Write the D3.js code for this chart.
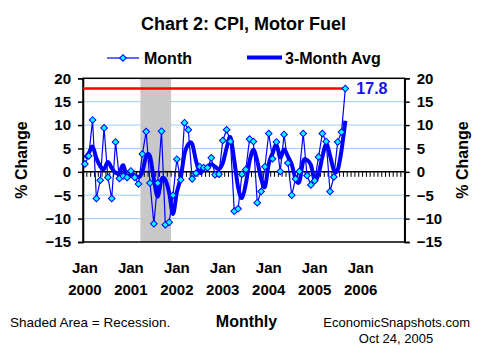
<!DOCTYPE html>
<html><head><meta charset="utf-8">
<script src="https://cdn.jsdelivr.net/npm/d3@7"></script>
<style>body{margin:0;background:#fff;} svg{display:block;} text{font-family:"Liberation Sans",Arial,sans-serif;}</style>
</head><body><svg id="c" width="485" height="356"></svg>
<script>
// Monthly % change, Jan 2000 .. Sep 2005
const monthly = [1.7,3.4,11.1,-5.7,-1.8,9.4,-1.2,-5.7,6.4,-1.4,-0.9,-1.2,
  0.2,-1.2,-2.6,3.8,8.6,-2.4,-11.1,-2.4,8.7,-11.3,-10.8,-5.0,
  2.7,-1.7,10.5,9.0,-1.5,-0.3,1.1,0.9,0.9,3.0,-0.6,-0.5,
  6.7,9.0,6.5,-8.4,-7.9,-0.5,0.5,7.0,6.5,-6.6,-4.2,1.1,
  8.2,2.8,6.4,0.1,8.0,1.9,-5.0,-1.5,0.1,8.2,-0.8,-2.8,
  -1.9,3.2,8.2,6.5,-4.2,-1.1,6.4,8.5,17.8];
// 3-month average, Jan 2000 .. Sep 2005
const avg3 = [3.0,4.0,5.4,2.9,1.2,0.6,2.1,0.8,-0.2,-0.2,1.4,-1.2,
  -0.6,-0.7,-1.2,0.0,3.3,3.3,-1.6,-5.3,-1.6,-1.7,-4.5,-9.0,
  -4.4,-1.3,3.8,5.9,6.0,2.4,-0.2,0.6,1.0,1.6,1.1,0.6,
  1.9,5.1,7.4,2.4,-3.3,-5.6,-2.6,2.3,4.7,2.3,-1.4,-3.2,
  1.7,4.0,5.8,3.1,4.8,3.3,1.6,-1.5,-2.1,2.3,2.5,1.5,
  -1.8,-0.5,3.2,6.0,3.5,0.4,0.4,4.6,10.9];
const years = ["2000","2001","2002","2003","2004","2005","2006"];
const yTicks = [-15,-10,-5,0,5,10,15,20];
const gridVals = [-10,-5,5,10,15];
const recession = ["2001-04","2001-11"];
const latestLabel = "17.8";

const fmt = d3.timeFormat("%Y-%m");
const months = d3.timeMonths(new Date(2000,0,1), new Date(2007,0,1)).map(fmt);

const svg = d3.select("#c");
const L = 83, R = 404.7, T = 78.3, B = 242;
const x = d3.scaleBand().domain(months).range([L, R]).padding(0);
const bw = x.bandwidth();
const cx = i => x(months[i]) + bw/2;
const y = d3.scaleLinear().domain([-15,20]).range([B, T]);

// gridlines
svg.append("g").selectAll("line").data(gridVals).join("line")
  .attr("x1", L).attr("x2", R).attr("y1", d=>y(d)).attr("y2", d=>y(d))
  .attr("stroke", "#99CCFF").attr("stroke-width", 1);

// recession shade
svg.append("rect").attr("x", x(recession[0])).attr("y", T)
  .attr("width", x(recession[1]) + bw - x(recession[0])).attr("height", B - T)
  .attr("fill", "#C8C8C8");

// frame
svg.append("rect").attr("x", L).attr("y", T).attr("width", R-L).attr("height", B-T)
  .attr("fill","none").attr("stroke","#000").attr("stroke-width",1.5);

// left / right axes
const yl = d3.axisLeft(y).tickValues(yTicks).tickSize(5).tickFormat(d3.format("d"));
const gl = svg.append("g").attr("transform",`translate(${L},0)`).call(yl);
const yr = d3.axisRight(y).tickValues(yTicks).tickSize(5).tickFormat(d3.format("d"));
const gr = svg.append("g").attr("transform",`translate(${R},0)`).call(yr);
[gl,gr].forEach(g=>{
  g.select(".domain").attr("stroke","#000").attr("stroke-width",1.5);
  g.selectAll(".tick line").attr("stroke","#000").attr("stroke-width",1.5);
  g.selectAll(".tick text").attr("font-size","15px").attr("font-weight","bold").attr("fill","#000")
    .style("font-family","'Liberation Sans',Arial,sans-serif");
});
gl.selectAll(".tick text").attr("x",-12);
gr.selectAll(".tick text").attr("x",12);

// zero axis with month ticks
svg.append("line").attr("x1",L).attr("x2",R).attr("y1",y(0)).attr("y2",y(0))
  .attr("stroke","#000").attr("stroke-width",1.5);
svg.append("g").selectAll("line").data(months).join("line")
  .attr("x1",d=>x(d)).attr("x2",d=>x(d)).attr("y1",y(0)).attr("y2",y(0)+5)
  .attr("stroke","#000").attr("stroke-width",1);

// red line at latest value
svg.append("line").attr("x1",L).attr("x2",cx(monthly.length-1))
  .attr("y1",y(monthly[monthly.length-1])).attr("y2",y(monthly[monthly.length-1]))
  .attr("stroke","#FF0000").attr("stroke-width",2.5);

// monthly thin line
const line1 = d3.line().x((d,i)=>cx(i)).y(d=>y(d));
svg.append("path").datum(monthly).attr("d",line1).attr("fill","none")
  .attr("stroke","#0000FF").attr("stroke-width",1.2);

// 3-month avg thick line
const line2 = d3.line().x((d,i)=>cx(i)).y(d=>y(d)).curve(d3.curveCardinal.tension(0));
svg.append("path").datum(avg3).attr("d",line2).attr("fill","none")
  .attr("stroke","#0000FF").attr("stroke-width",4);

// diamonds
const dia = d3.symbol().type(d3.symbolDiamond2).size(26);
svg.append("g").selectAll("path").data(monthly).join("path")
  .attr("d", d3.symbol().type(d3.symbolSquare).size(22))
  .attr("transform",(d,i)=>`translate(${cx(i)},${y(d)}) rotate(45)`)
  .attr("fill","#00FFFF").attr("stroke","#0000FF").attr("stroke-width",1);

// latest label
svg.append("text").attr("x",cx(monthly.length-1)+11).attr("y",y(monthly[monthly.length-1])+5.5)
  .attr("font-size","16px").attr("font-weight","bold").attr("fill","#1515E8").text(latestLabel);

// x labels
const xg = svg.append("g");
years.forEach(yr=>{
  const xc = x(yr+"-01") + bw/2;
  xg.append("text").attr("x",xc).attr("y",273).attr("text-anchor","middle")
    .attr("font-size","15px").attr("font-weight","bold").text("Jan");
  xg.append("text").attr("x",xc).attr("y",295).attr("text-anchor","middle")
    .attr("font-size","15px").attr("font-weight","bold").text(yr);
});

// title
svg.append("text").attr("x",243.5).attr("y",30).attr("text-anchor","middle")
  .attr("font-size","18px").attr("font-weight","bold").text("Chart 2: CPI, Motor Fuel");

// legend
svg.append("line").attr("x1",107).attr("x2",139).attr("y1",58).attr("y2",58)
  .attr("stroke","#0000FF").attr("stroke-width",1.2);
svg.append("path").attr("d", d3.symbol().type(d3.symbolSquare).size(22))
  .attr("transform","translate(123,58) rotate(45)")
  .attr("fill","#00FFFF").attr("stroke","#0000FF").attr("stroke-width",1);
svg.append("text").attr("x",144).attr("y",63.5).attr("font-size","16px").attr("font-weight","bold").text("Month");
svg.append("line").attr("x1",247).attr("x2",282).attr("y1",57.5).attr("y2",57.5)
  .attr("stroke","#0000FF").attr("stroke-width",4);
svg.append("text").attr("x",285).attr("y",63.5).attr("font-size","16px").attr("font-weight","bold").text("3-Month Avg");

// y titles
svg.append("text").attr("transform","translate(27,160) rotate(-90)").attr("text-anchor","middle")
  .attr("font-size","16px").attr("font-weight","bold").text("% Change");
svg.append("text").attr("transform","translate(468,160) rotate(-90)").attr("text-anchor","middle")
  .attr("font-size","16px").attr("font-weight","bold").text("% Change");

// footer
svg.append("text").attr("x",10).attr("y",327).attr("font-size","13.5px").text("Shaded Area = Recession.");
svg.append("text").attr("x",246.5).attr("y",327).attr("text-anchor","middle")
  .attr("font-size","16px").attr("font-weight","bold").text("Monthly");
svg.append("text").attr("x",470).attr("y",327).attr("text-anchor","end").attr("font-size","13px").text("EconomicSnapshots.com");
svg.append("text").attr("x",396).attr("y",343).attr("text-anchor","middle").attr("font-size","13px").text("Oct 24, 2005");
</script></body></html>
